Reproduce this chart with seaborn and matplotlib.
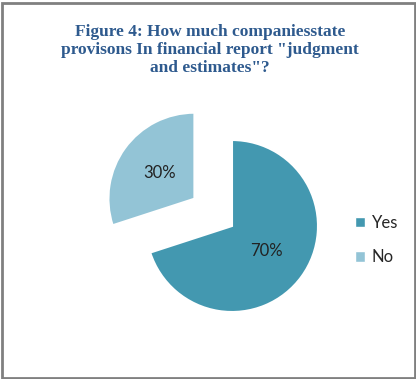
import matplotlib
matplotlib.use("Agg")
import matplotlib.pyplot as plt
import seaborn as sns
from matplotlib.patches import Rectangle, Patch

categories = ["Yes", "No"]
values = [70, 30]
title_text = 'Figure 4: How much companiesstate\nprovisons In financial report "judgment\nand estimates"?'

sns.set_theme(style="white")
plt.rcParams['font.family'] = ['Lato', 'DejaVu Sans']
colors = sns.color_palette(["#4398B0", "#93C4D6"])

W, H = 416, 379
fig = plt.figure(figsize=(W / 100, H / 100), dpi=100)
fig.patch.set_facecolor("white")

cx, cy, r = 232, H - 226, 86
span = 1.6
ax = fig.add_axes([(cx - span * r) / W, (cy - span * r) / H, 2 * span * r / W, 2 * span * r / H])
wedges, texts, autotexts = ax.pie(
    values, colors=colors, startangle=90, counterclock=False,
    explode=[0, 0.54], autopct="%d%%", pctdistance=0.5,
    wedgeprops=dict(edgecolor="white", linewidth=1.5),
    textprops=dict(fontsize=12, color="#222222"))
ax.set_xlim(-span, span)
ax.set_ylim(-span, span)

fig.text(0.505, 1 - 24 / H, title_text, ha="center", va="top",
         fontsize=12.5, fontweight="bold", color="#2E5A8E",
         family=["Liberation Serif", "DejaVu Serif"], linespacing=1.15)

handles = [Patch(facecolor=c, edgecolor="white") for c in colors]
fig.legend(handles, categories, loc="upper left", bbox_to_anchor=(340 / W, 1 - 200 / H),
           frameon=False, fontsize=12, handlelength=0.6, handleheight=0.6,
           handletextpad=0.4, labelspacing=1.1)

fig.add_artist(Rectangle((1.5 / W, 1.5 / H), (W - 3) / W, (H - 4.5) / H,
                         transform=fig.transFigure, fill=False,
                         edgecolor="#808080", linewidth=2))

fig.savefig("out.png", dpi=100)
